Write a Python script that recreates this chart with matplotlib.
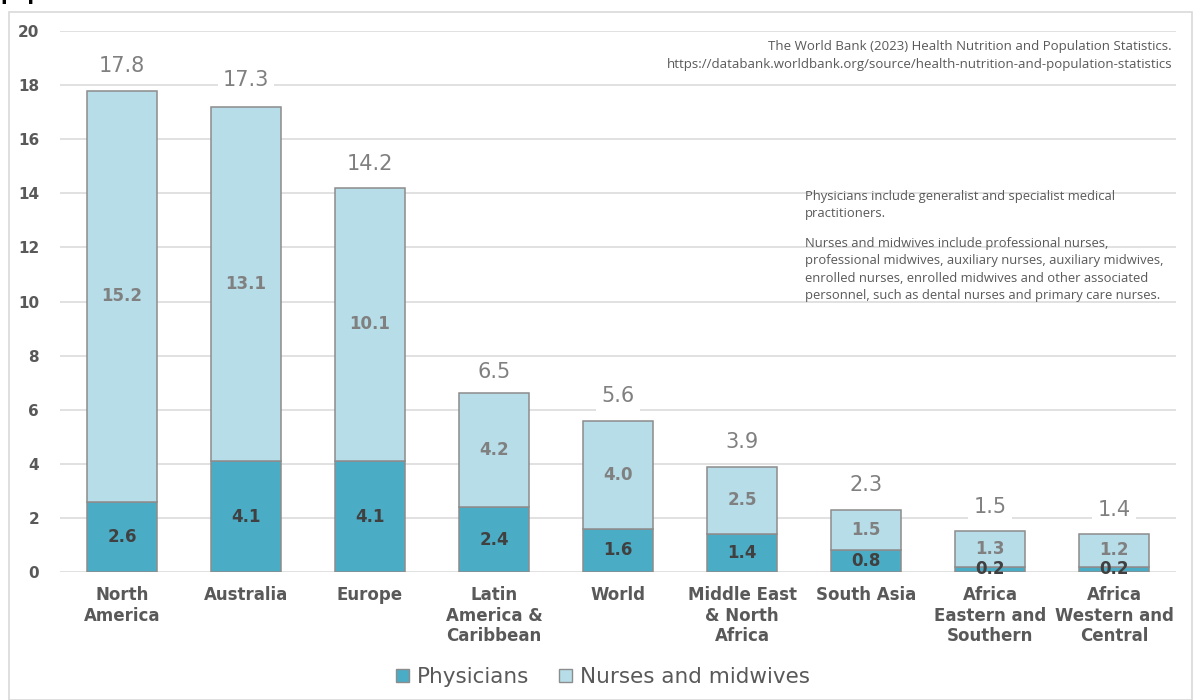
import matplotlib
matplotlib.use("Agg")
import matplotlib.pyplot as plt
from matplotlib.patches import Rectangle, Patch
import numpy as np

plt.rcParams["font.family"] = ["DejaVu Sans"]

# Health workforce density (per 1,000 people), by region
regions = ["North\nAmerica", "Australia", "Europe", "Latin\nAmerica &\nCaribbean",
           "World", "Middle East\n& North\nAfrica", "South Asia",
           "Africa\nEastern and\nSouthern", "Africa\nWestern and\nCentral"]
physicians = [2.6, 4.1, 4.1, 2.4, 1.6, 1.4, 0.8, 0.2, 0.2]
nurses = [15.2, 13.1, 10.1, 4.2, 4.0, 2.5, 1.5, 1.3, 1.2]
totals = [17.8, 17.3, 14.2, 6.5, 5.6, 3.9, 2.3, 1.5, 1.4]
y_ticks = [0, 2, 4, 6, 8, 10, 12, 14, 16, 18, 20]

source_text = ("The World Bank (2023) Health Nutrition and Population Statistics.\n"
               "https://databank.worldbank.org/source/health-nutrition-and-population-statistics")
note_physicians = "Physicians include generalist and specialist medical\npractitioners."
note_nurses = ("Nurses and midwives include professional nurses,\n"
               "professional midwives, auxiliary nurses, auxiliary midwives,\n"
               "enrolled nurses, enrolled midwives and other associated\n"
               "personnel, such as dental nurses and primary care nurses.")

PHYS_COLOR = "#4bacc6"
NURSE_COLOR = "#b7dde8"
EDGE = "#8c8c8c"
TEXT_GRAY = "#595959"
LIGHT_GRAY = "#808080"

W, H = 1194, 700
fig = plt.figure(figsize=(W / 100, H / 100), dpi=100)

# outer chart frame
fig.add_artist(Rectangle((8.5 / W, 0), (1192 - 8.5) / W, (H - 12) / H,
                         transform=fig.transFigure, fill=False,
                         edgecolor="#d9d9d9", linewidth=1.2))

# heading running off the top edge
fig.text(0.0, 1.0, "population", fontsize=14, fontweight="bold",
         color="black", va="baseline", ha="left")

ax = fig.add_axes([60 / W, (H - 572) / H, (1176 - 60) / W, (572 - 31) / H])
x = np.arange(len(regions))
bw = 0.57

ax.bar(x, physicians, width=bw, color=PHYS_COLOR, edgecolor=EDGE,
       linewidth=1.1, zorder=3, label="Physicians")
ax.bar(x, nurses, width=bw, bottom=physicians, color=NURSE_COLOR,
       edgecolor=EDGE, linewidth=1.1, zorder=3, label="Nurses and midwives")

for xi, p, n, t in zip(x, physicians, nurses, totals):
    ax.text(xi, p / 2, f"{p:.1f}", ha="center", va="center", fontsize=12,
            fontweight="bold", color="#404040", zorder=5)
    ax.text(xi, p + n / 2, f"{n:.1f}", ha="center", va="center", fontsize=12,
            fontweight="bold", color=LIGHT_GRAY, zorder=5)
    ax.text(xi, t + 0.9, f"{t:.1f}", ha="center", va="center", fontsize=15,
            color=LIGHT_GRAY, zorder=5,
            bbox=dict(boxstyle="square,pad=0.25", facecolor="white",
                      edgecolor="none"))

ax.set_xlim(-0.5, len(regions) - 0.5)
ax.set_ylim(0, 20)
ax.set_yticks(y_ticks)
ax.set_yticklabels([str(v) for v in y_ticks], fontsize=11,
                   fontweight="bold", color=TEXT_GRAY)
ax.set_xticks(x)
ax.set_xticklabels(regions, fontsize=12, fontweight="bold", color=TEXT_GRAY,
                   linespacing=1.2, va="top")
ax.tick_params(axis="both", length=0)
ax.tick_params(axis="y", pad=15)
ax.tick_params(axis="x", pad=10)
ax.grid(axis="y", color="#d9d9d9", linewidth=1.1, zorder=0)
for s in ax.spines.values():
    s.set_visible(False)

# source and definitions
fig.text(1172 / W, 1 - 40 / H, source_text, ha="right", va="top",
         fontsize=9.5, family="Open Sans", color=TEXT_GRAY, linespacing=1.5)
fig.text(805 / W, 1 - 190 / H, note_physicians, ha="left", va="top",
         fontsize=9.4, family="Open Sans", color=TEXT_GRAY, linespacing=1.45)
fig.text(805 / W, 1 - 237 / H, note_nurses, ha="left", va="top",
         fontsize=9.4, family="Open Sans", color=TEXT_GRAY, linespacing=1.45)

handles = [Patch(facecolor=PHYS_COLOR, edgecolor=EDGE),
           Patch(facecolor=NURSE_COLOR, edgecolor=EDGE)]
fig.legend(handles, ["Physicians", "Nurses and midwives"], loc="center",
           bbox_to_anchor=(603 / W, 1 - 677 / H), ncol=2, frameon=False,
           fontsize=15.5, labelcolor=TEXT_GRAY, handlelength=0.6,
           handleheight=0.6, handletextpad=0.35, columnspacing=1.4)

fig.savefig("out.png", dpi=100)
